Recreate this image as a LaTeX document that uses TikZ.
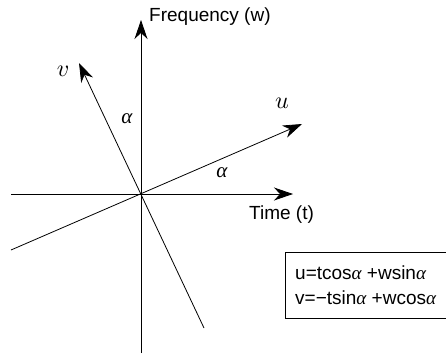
\documentclass[tikz,border=0pt]{standalone}
\usepackage{fontspec}
\setmainfont{Liberation Sans}
\newfontfamily\grk{Liberation Serif}
\newcommand{\alp}{{\grk\itshape α}}
\usetikzlibrary{arrows.meta}
\begin{document}
\begin{tikzpicture}[x=1pt,y=-1pt,
  axis/.style={line width=0.8pt,-{Stealth[length=19pt,width=13pt,inset=6pt]}},
  lbl/.style={inner sep=0pt,font=\fontsize{19}{23}\selectfont},
  mlbl/.style={inner sep=0pt,font=\fontsize{21}{25}\selectfont},
  vlbl/.style={inner sep=0pt}]
\useasboundingbox (0,0) rectangle (446,353);
\clip (0,0) rectangle (446,353);
\coordinate (O) at (141,194);
\coordinate (tl) at (11,194);
\coordinate (tr) at (293,194);
\coordinate (wb) at (141,353);
\coordinate (wt) at (141,20);
\coordinate (ul) at (11,250);
\coordinate (ur) at (302,124);
\coordinate (vb) at (204,328);
\coordinate (vt) at (79,63);
\draw[axis] (tl) -- (tr);
\draw[axis] (wb) -- (wt);
\draw[axis] (ul) -- (ur);
\draw[axis] (vb) -- (vt);
\node[lbl,anchor=west] (freq) at (149,17) {Frequency (w)};
\node[lbl,anchor=west] (time) at (249,215) {Time (t)};
\node[vlbl] (vl) at (63,71) {\scalebox{2.4}{$v$}};
\node[vlbl] (ul2) at (282,103) {\scalebox{2.4}{$u$}};
\node[mlbl] (a1) at (127,119) {\alp};
\node[mlbl] (a2) at (222,173) {\alp};
\node[lbl,anchor=west,align=left] (eq) at (295,285.5) {u=tcos\alp{} +wsin\alp\\[2pt]v=−tsin\alp{} +wcos\alp};
\draw[line width=0.8pt] (460,252) -- (285,252) -- (285,318) -- (460,318);
\end{tikzpicture}
\end{document}
